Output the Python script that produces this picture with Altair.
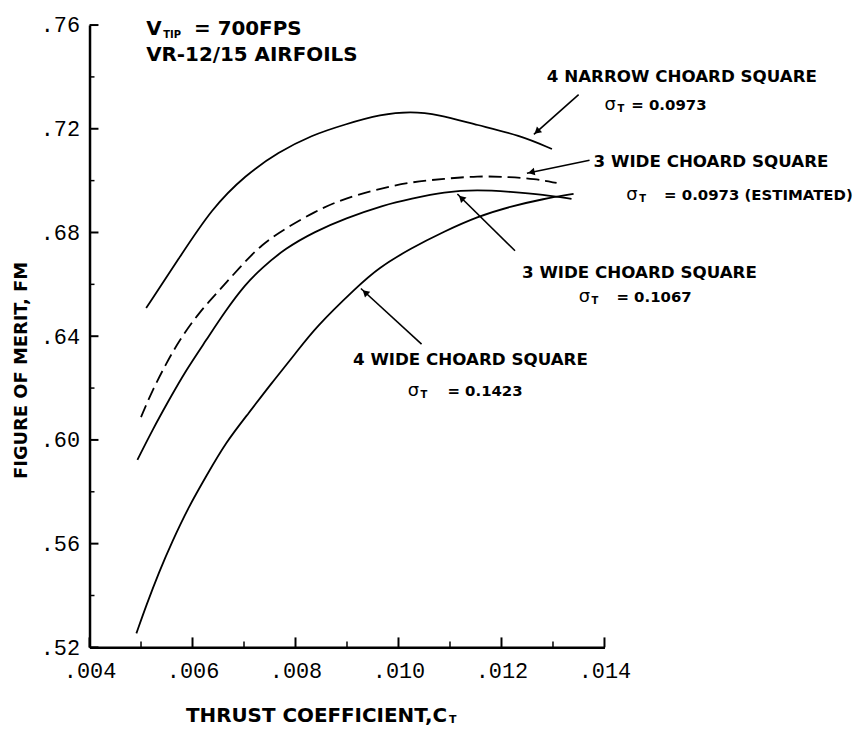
import math
import altair as alt
import pandas as pd

# ---------------- data ----------------
narrow4_ct = [0.00510, 0.00574, 0.00637, 0.00703, 0.00767, 0.00831, 0.00896, 0.00966, 0.01024, 0.01076, 0.01153, 0.01236, 0.01298]
narrow4_fm = [0.6509, 0.6701, 0.6892, 0.7022, 0.7110, 0.7175, 0.7217, 0.7256, 0.7267, 0.7256, 0.7214, 0.7175, 0.7122]

wide3est_ct = [0.00500, 0.00522, 0.00549, 0.00574, 0.00612, 0.00651, 0.00690, 0.00734, 0.00780, 0.00838, 0.00888, 0.00954, 0.01024, 0.01089, 0.01153, 0.01217, 0.01263, 0.01307]
wide3est_fm = [0.6088, 0.6191, 0.6295, 0.6383, 0.6490, 0.6574, 0.6662, 0.6754, 0.6815, 0.6881, 0.6926, 0.6965, 0.6995, 0.7007, 0.7018, 0.7014, 0.7007, 0.6991]

wide3_ct = [0.00493, 0.00522, 0.00554, 0.00587, 0.00626, 0.00664, 0.00703, 0.00734, 0.00780, 0.00838, 0.00896, 0.00973, 0.01024, 0.01089, 0.01153, 0.01217, 0.01282, 0.01336]
wide3_fm = [0.5923, 0.6038, 0.6153, 0.6268, 0.6383, 0.6498, 0.6601, 0.6662, 0.6739, 0.6804, 0.6854, 0.6907, 0.6930, 0.6957, 0.6965, 0.6957, 0.6946, 0.6930]

wide4_ct = [0.00491, 0.00510, 0.00535, 0.00560, 0.00593, 0.00626, 0.00664, 0.00709, 0.00753, 0.00800, 0.00838, 0.00921, 0.00960, 0.01024, 0.01089, 0.01153, 0.01217, 0.01282, 0.01340]
wide4_fm = [0.5254, 0.5361, 0.5491, 0.5606, 0.5744, 0.5858, 0.5989, 0.6103, 0.6218, 0.6333, 0.6433, 0.6593, 0.6662, 0.6739, 0.6804, 0.6861, 0.6900, 0.6930, 0.6949]

x_major = [0.004, 0.006, 0.008, 0.010, 0.012, 0.014]
x_minor = [0.005, 0.007, 0.009, 0.011, 0.013]
y_major = [0.52, 0.56, 0.60, 0.64, 0.68, 0.72, 0.76]
y_minor = [0.54, 0.58, 0.62, 0.66, 0.70, 0.74]

# header text (in data units)
head_text = ["V", "= 700FPS", "VR-12/15 AIRFOILS"]
head_x = [0.00510, 0.00603, 0.00510]
head_y = [0.75847, 0.75847, 0.74850]
head_sub_text = ["TIP"]
head_sub_x = [0.00543]
head_sub_y = [0.75610]

# curve labels
label_text = ["4 NARROW CHOARD SQUARE", "3 WIDE CHOARD SQUARE", "3 WIDE CHOARD SQUARE", "4 WIDE CHOARD SQUARE"]
label_x = [0.012880, 0.013788, 0.012398, 0.009116]
label_y = [0.74007, 0.70709, 0.66454, 0.63080]

sigma_x = [0.014000, 0.014425, 0.013498, 0.010178]
sigma_y = [0.72933, 0.69444, 0.65495, 0.61891]
sub_x = [0.014251, 0.014676, 0.013749, 0.010429]
sub_y = [0.72780, 0.69291, 0.65342, 0.61738]
value_text = ["= 0.0973", "= 0.0973 (ESTIMATED)", "= 0.1067", "= 0.1423"]
value_x = [0.014521, 0.015158, 0.014232, 0.010950]
value_y = [0.72933, 0.69444, 0.65495, 0.61891]

# x-axis title (with subscript)
xtitle_text = ["THRUST COEFFICIENT,C"]
xtitle_x = [0.005873]
xtitle_y = [0.49355]
xtitle_sub_x = [0.010980]
xtitle_sub_y = [0.49180]

# arrows: tail -> head
arrow_x = [0.013498, 0.013710, 0.012263, 0.010448]
arrow_y = [0.73317, 0.70786, 0.67297, 0.63693]
arrow_x2 = [0.012629, 0.012494, 0.011143, 0.009270]
arrow_y2 = [0.71783, 0.70288, 0.69483, 0.65840]

# ---------------- chart ----------------
W, H = 518, 626
XD, YD = [0.004, 0.014], [0.52, 0.76]
xs = alt.Scale(domain=XD, nice=False, zero=False)
ys = alt.Scale(domain=YD, nice=False, zero=False)
FONT = "DejaVu Sans"

x_axis = alt.Axis(
    values=x_major, ticks=False, grid=False, domainColor="black", domainWidth=2.5,
    labelFont="Liberation Mono", labelFontSize=22, labelColor="black", labelPadding=13,
    labelFlush=False, labelOverlap=False,
    labelExpr="'.' + substring(format(datum.value, '.3f'), 2)", title=None,
)
y_axis = alt.Axis(
    values=y_major, ticks=False, grid=False, domainColor="black", domainWidth=2.5,
    labelFont="Liberation Mono", labelFontSize=22, labelColor="black", labelPadding=10,
    labelFlush=False, labelOverlap=False,
    labelExpr="'.' + substring(format(datum.value, '.2f'), 2)",
    title="FIGURE OF MERIT, FM", titleFont=FONT, titleFontSize=18, titleFontWeight="bold",
    titleColor="black", titleAngle=270, titleAlign="center", titleBaseline="middle",
    titleX=-68, titleY=347,
)


def X(field):
    return alt.X(field, type="quantitative", scale=xs, axis=x_axis)


def Y(field):
    return alt.Y(field, type="quantitative", scale=ys, axis=y_axis)


def curve_df(ct, fm, name):
    return pd.DataFrame({"ct": ct, "fm": fm, "series": name})


solid = pd.concat([
    curve_df(narrow4_ct, narrow4_fm, "4 narrow"),
    curve_df(wide3_ct, wide3_fm, "3 wide"),
    curve_df(wide4_ct, wide4_fm, "4 wide"),
])
dashed = curve_df(wide3est_ct, wide3est_fm, "3 wide est")

solid_layer = alt.Chart(solid).mark_line(color="black", strokeWidth=1.8, interpolate="basis").encode(
    x=X("ct"), y=Y("fm"), detail="series:N",
)
dashed_layer = alt.Chart(dashed).mark_line(color="black", strokeWidth=1.8, strokeDash=[13, 6], interpolate="basis").encode(
    x=X("ct"), y=Y("fm"),
)

# inward ticks
xt_major = pd.DataFrame({"v": x_major})
xt_minor = pd.DataFrame({"v": x_minor})
yt_major = pd.DataFrame({"v": y_major})
yt_minor = pd.DataFrame({"v": y_minor})
xtick_major = alt.Chart(xt_major).mark_rule(color="black", strokeWidth=2).encode(
    x=X("v"), y=alt.value(H), y2=alt.value(H - 10))
xtick_minor = alt.Chart(xt_minor).mark_rule(color="black", strokeWidth=1.5).encode(
    x=X("v"), y=alt.value(H), y2=alt.value(H - 6))
ytick_major = alt.Chart(yt_major).mark_rule(color="black", strokeWidth=2).encode(
    y=Y("v"), x=alt.value(0), x2=alt.value(9))
ytick_minor = alt.Chart(yt_minor).mark_rule(color="black", strokeWidth=1.5).encode(
    y=Y("v"), x=alt.value(0), x2=alt.value(5))


def text_layer(texts, xv, yv, size, weight="bold"):
    df = pd.DataFrame({"x": xv, "y": yv, "t": texts})
    return alt.Chart(df).mark_text(
        align="left", baseline="middle", font=FONT, fontSize=size, fontWeight=weight, color="black"
    ).encode(x=X("x"), y=Y("y"), text="t:N")


texts = [
    text_layer(head_text, head_x, head_y, 20),
    text_layer(head_sub_text, head_sub_x, head_sub_y, 10),
    text_layer(label_text, label_x, label_y, 16.8),
    text_layer(["σ"] * 4, sigma_x, sigma_y, 18, "normal"),
    text_layer(["T"] * 4, sub_x, sub_y, 10),
    text_layer(value_text, value_x, value_y, 15),
    text_layer(xtitle_text, xtitle_x, xtitle_y, 20),
    text_layer(["T"], xtitle_sub_x, xtitle_sub_y, 11),
]

# arrows
PX_X = W / (XD[1] - XD[0])
PX_Y = H / (YD[1] - YD[0])
angles, hx, hy = [], [], []
for x1, y1, x2, y2 in zip(arrow_x, arrow_y, arrow_x2, arrow_y2):
    dxp = (x2 - x1) * PX_X
    dyp = -(y2 - y1) * PX_Y
    angles.append((math.degrees(math.atan2(dxp, -dyp)) + 360) % 360)
    hx.append(x2 + (x1 - x2) * 0.07)
    hy.append(y2 + (y1 - y2) * 0.07)

arr = pd.DataFrame({"x": arrow_x, "y": arrow_y, "x2": arrow_x2, "y2": arrow_y2})
arrow_lines = alt.Chart(arr).mark_rule(color="black", strokeWidth=1.6).encode(
    x=X("x"), y=Y("y"), x2="x2:Q", y2="y2:Q",
)
heads = pd.DataFrame({"x": hx, "y": hy, "ang": angles})
arrow_heads = alt.Chart(heads).mark_point(shape="triangle-up", filled=True, color="black", size=60, opacity=1).encode(
    x=X("x"), y=Y("y"), angle=alt.Angle("ang:Q", scale=None),
)

chart = alt.layer(
    solid_layer, dashed_layer, xtick_major, xtick_minor, ytick_major, ytick_minor,
    arrow_lines, arrow_heads, *texts,
).properties(
    width=W, height=H,
    autosize=alt.AutoSizeParams(type="none"),
    padding={"left": 82, "top": 15, "right": 252, "bottom": 85},
    background="white",
).configure_view(stroke=None)

chart.save("out.html", embed_options={"renderer": "svg", "actions": False})
